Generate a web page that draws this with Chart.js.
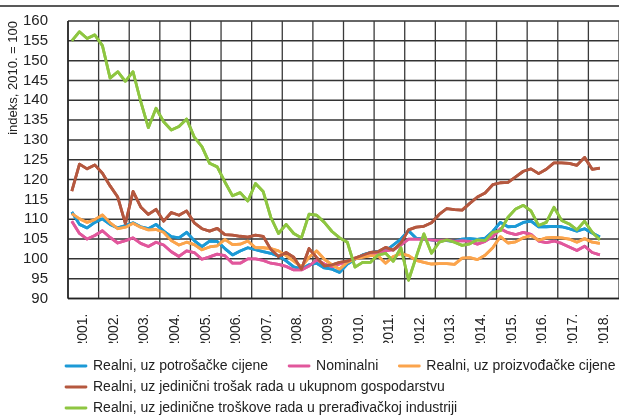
<!DOCTYPE html>
<html>
<head>
<meta charset="utf-8">
<script src="https://cdn.jsdelivr.net/npm/chart.js@4.4.1/dist/chart.umd.min.js"></script>
<style>
  html, body { margin: 0; padding: 0; background: #fff; }
  #wrap { width: 619px; height: 416px; position: relative; }
</style>
</head>
<body>
<div id="wrap"><canvas id="chart"></canvas></div>
<script>
//
// Data (quarterly, 2001 Q1 - 2018 Q2)
//

var years = ['2001.', '2002.', '2003.', '2004.', '2005.', '2006.', '2007.', '2008.', '2009.',
	'2010.', '2011.', '2012.', '2013.', '2014.', '2015.', '2016.', '2017.', '2018.'];

var realCpi = [111.8, 108.7, 107.8, 109.2, 110.1, 108.7, 107.8, 108.4, 109.1, 108.1, 107.6, 108.7,
	107.0, 105.6, 105.3, 106.7, 104.6, 103.1, 104.5, 104.4, 102.6, 101.0, 102.0, 102.8,
	102.3, 101.8, 101.4, 100.7, 99.5, 98.0, 97.4, 98.5, 98.9, 97.7, 97.4, 96.6,
	98.7, 99.9, 101.0, 101.6, 101.9, 102.0, 103.5, 105.0, 107.1, 105.2, 105.0, 104.8,
	104.6, 104.6, 104.4, 105.0, 105.1, 104.9, 105.2, 106.9, 109.2, 108.1, 108.2, 109.2,
	109.5, 108.1, 108.1, 108.2, 108.1, 107.6, 107.0, 107.6, 106.5, 105.5];

var nominal = [109.5, 106.4, 105.0, 105.9, 107.1, 105.4, 104.0, 104.6, 105.3, 103.9, 103.1, 104.2,
	103.5, 101.8, 100.6, 102.0, 101.6, 99.9, 100.5, 101.2, 100.8, 98.9, 98.9, 100.0,
	100.0, 99.6, 98.9, 98.6, 98.1, 97.2, 97.2, 98.2, 99.7, 98.7, 98.0, 98.7,
	99.3, 100.0, 100.6, 101.2, 101.6, 102.0, 102.3, 103.5, 105.0, 105.0, 105.0, 104.8,
	104.6, 104.8, 104.4, 104.6, 104.4, 103.7, 104.4, 105.6, 107.6, 106.6, 106.1, 106.7,
	106.2, 104.5, 104.1, 104.5, 103.9, 103.0, 102.1, 103.2, 101.6, 101.0];

var realPpi = [111.4, 110.1, 109.2, 109.9, 111.1, 109.1, 107.6, 108.0, 109.0, 108.0, 107.3, 107.4,
	106.7, 104.6, 103.5, 104.2, 103.6, 102.3, 103.0, 103.3, 104.9, 103.6, 103.7, 104.5,
	102.8, 102.8, 102.6, 102.0, 100.8, 99.4, 98.0, 100.4, 102.0, 99.9, 98.5, 97.4,
	99.1, 100.0, 100.4, 100.8, 100.8, 98.9, 100.6, 101.3, 100.8, 99.6, 99.1, 98.7,
	98.8, 98.8, 98.6, 100.2, 100.3, 99.8, 100.9, 102.8, 105.6, 104.0, 104.3, 105.3,
	105.9, 104.7, 105.3, 105.4, 105.3, 105.0, 104.2, 105.1, 104.2, 103.9];

var realUlc = [117.1, 123.9, 122.7, 123.7, 121.6, 118.4, 115.6, 108.9, 117.0, 113.1, 111.2, 112.5,
	109.5, 111.7, 111.0, 112.1, 109.1, 107.6, 107.0, 107.7, 106.1, 106.0, 105.7, 105.5,
	106.0, 105.7, 102.4, 100.6, 101.6, 100.4, 97.4, 102.6, 100.3, 98.2, 98.5, 99.1,
	99.4, 100.2, 100.9, 101.6, 101.8, 102.9, 102.2, 104.0, 107.3, 108.0, 108.2, 109.1,
	111.2, 112.7, 112.4, 112.3, 114.0, 115.6, 116.6, 118.7, 119.2, 119.3, 120.7, 122.1,
	122.7, 121.5, 122.6, 124.2, 124.2, 124.1, 123.6, 125.6, 122.6, 122.9];

var realUlcMfg = [155.0, 157.3, 155.6, 156.5, 153.8, 145.6, 147.2, 144.8, 147.2, 139.7, 133.1, 138.0,
	134.6, 132.5, 133.4, 135.3, 130.7, 128.3, 124.1, 123.2, 119.4, 115.9, 116.7, 114.6,
	119.0, 117.0, 110.5, 106.4, 108.7, 106.4, 105.3, 111.3, 111.0, 109.2, 106.9, 105.3,
	104.2, 97.9, 99.1, 99.1, 101.0, 101.4, 99.4, 102.8, 94.6, 100.5, 106.3, 101.4,
	104.2, 104.8, 104.2, 103.4, 103.8, 104.8, 104.6, 106.7, 107.1, 110.5, 112.6, 113.5,
	112.1, 108.4, 109.2, 113.0, 109.7, 108.8, 107.3, 109.5, 106.7, 104.8];

var seriesNames = [
	'Realni, uz potrošačke cijene',
	'Nominalni',
	'Realni, uz proizvođačke cijene',
	'Realni, uz jedinični trošak rada u ukupnom gospodarstvu',
	'Realni, uz jedinične troškove rada u prerađivačkoj industriji'
];
var seriesColors = ['#1c9ad6', '#e1579c', '#fba44c', '#b5583f', '#8ec641'];

//
// Helpers
//

// quarter index -> position on the 0..18 year scale (middle of the quarter)
function toPoints(values) {
	return values.map(function(v, i) {
		return { x: Math.floor(i / 4) + ((i % 4) + 0.5) / 4, y: v };
	});
}

function makeDataset(k, values) {
	return {
		// first row of the legend gets a wider gap after the text
		label: seriesNames[k] + (k < 2 ? '\u2003' : ''),
		data: toPoints(values),
		xAxisID: 'xq',
		borderColor: seriesColors[k],
		backgroundColor: seriesColors[k],
		borderWidth: 2.8,
		borderJoinStyle: 'round',
		pointRadius: 0,
		tension: 0,
		order: 5 - k
	};
}

function strokeLine(ctx, x1, y1, x2, y2, color, width) {
	ctx.strokeStyle = color;
	ctx.lineWidth = width;
	ctx.beginPath();
	ctx.moveTo(x1, y1);
	ctx.lineTo(x2, y2);
	ctx.stroke();
}

// grid from the scales, lines redrawn over it, top rule, legend placement
var frame = {
	id: 'frame',
	beforeDraw: function(chart) {
		chart.legend.left = 59;
		chart.legend.right = chart.width + 20;
		chart.legend.top = 352;
	},
	afterDraw: function(chart) {
		var ctx = chart.ctx;
		var area = chart.chartArea;
		var yScale = chart.scales.y;
		var xq = chart.scales.xq;
		var i;

		ctx.save();
		ctx.setLineDash([]);
		// horizontal grid at every y tick
		yScale.ticks.forEach(function(t) {
			var py = yScale.getPixelForValue(t.value);
			strokeLine(ctx, area.left, py, area.right, py, '#333', 1.5);
		});
		// vertical grid at the year boundaries
		for (i = 0; i <= years.length; i++) {
			var px = xq.getPixelForValue(i);
			strokeLine(ctx, px, area.top, px, area.bottom, '#3a3a3a', 1.3);
		}
		// axis lines
		strokeLine(ctx, area.left, area.top, area.left, area.bottom, '#222', 1.5);
		strokeLine(ctx, area.left, area.bottom, area.right, area.bottom, '#222', 1.5);
		ctx.restore();

		// series back on top of the grid (same stacking as the chart)
		var metas = chart.getSortedVisibleDatasetMetas();
		for (i = metas.length - 1; i >= 0; i--) {
			try {
				metas[i].controller.draw();
			} catch (e) {}
		}

		ctx.save();
		strokeLine(ctx, 0, 6, chart.width, 6, '#222', 1.5);
		ctx.restore();
	}
};

Chart.defaults.font.family = "'Liberation Sans', Arial, sans-serif";
Chart.defaults.color = '#222';

new Chart(document.getElementById('chart'), {
	type: 'line',
	data: {
		labels: years,
		datasets: [
			makeDataset(0, realCpi),
			makeDataset(1, nominal),
			makeDataset(2, realPpi),
			makeDataset(3, realUlc),
			makeDataset(4, realUlcMfg)
		]
	},
	options: {
		responsive: true,
		maintainAspectRatio: false,
		animation: false,
		layout: { padding: { top: 20, right: 0, left: 4, bottom: 0 } },
		plugins: {
			tooltip: { enabled: false },
			legend: {
				position: 'bottom',
				align: 'start',
				labels: {
					boxWidth: 20,
					boxHeight: 0,
					padding: 7,
					color: '#222',
					font: { size: 14 },
					sort: function(a, b) { return a.datasetIndex - b.datasetIndex; }
				}
			}
		},
		scales: {
			x: {
				type: 'category',
				offset: true,
				grid: { offset: true, display: false },
				border: { display: false },
				ticks: {
					maxRotation: 90,
					minRotation: 90,
					padding: 7,
					font: { size: 14 },
					color: '#222'
				},
				afterFit: function(scale) {
					scale.height = 44.5;
					scale.paddingLeft = 0;
					scale.paddingRight = 0;
				}
			},
			xq: {
				type: 'linear',
				display: false,
				min: 0,
				max: 18
			},
			y: {
				min: 90,
				max: 160,
				grid: { display: false },
				border: { display: false },
				ticks: { stepSize: 5, autoSkip: false, padding: 12, font: { size: 15 }, color: '#222' },
				title: {
					display: true,
					text: 'indeks, 2010. = 100',
					align: 'end',
					color: '#222',
					font: { size: 13 },
					padding: { top: 2, bottom: 4 }
				},
				afterFit: function(scale) {
					scale.width = 64;
				}
			}
		}
	},
	plugins: [frame]
});
</script>
</body>
</html>
